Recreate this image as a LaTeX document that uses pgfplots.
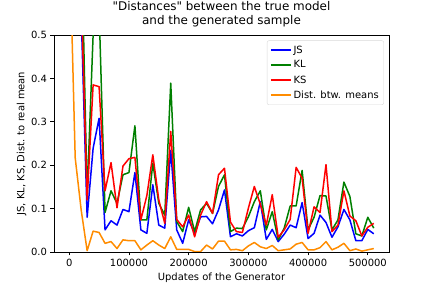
\documentclass[border=0pt]{standalone}
\usepackage{pgfplots}
\pgfplotsset{compat=1.18}
\usepackage{fontspec}
\setmainfont{DejaVu Sans}
\definecolor{mplgreen}{rgb}{0,0.5,0}
\definecolor{mplorange}{rgb}{1,0.55,0}
\begin{document}
\begin{tikzpicture}
\useasboundingbox (0bp,0bp) rectangle (432bp,288bp);
\begin{axis}[
  at={(54bp,36bp)}, anchor=south west,
  scale only axis, width=335bp, height=217bp,
  xmin=-25500, xmax=535500, ymin=0, ymax=0.5,
  axis line style={line width=0.8bp},
  tick align=outside, major tick length=3.5bp,
  every tick/.style={line width=0.8bp, black},
  xtick pos=lower, ytick pos=left,
  xtick={0,100000,200000,300000,400000,500000},
  ytick={0,0.1,0.2,0.3,0.4,0.5},
  scaled x ticks=false, scaled y ticks=false,
  xticklabel style={/pgf/number format/.cd, fixed, 1000 sep={}, assume math mode=true},
  yticklabel style={/pgf/number format/.cd, fixed, fixed zerofill, precision=1, assume math mode=true},
  tick label style={font=\fontsize{10}{12}\selectfont},
  label style={font=\fontsize{10}{12}\selectfont},
  xlabel={Updates of the Generator},
  ylabel={JS, KL, KS, Dist. to real mean},
  xlabel style={yshift=0bp},
  ylabel style={yshift=-2bp},
  title style={font=\fontsize{12}{14}\selectfont, align=center, yshift=-1.5bp},
  title={\textquotedbl Distances\textquotedbl{} between the true model\\and the generated sample},
  legend cell align=left,
  legend style={at={(0.985,0.975)}, anchor=north east, draw=black!15, rounded corners=2bp,
    font=\fontsize{10}{12}\selectfont, row sep=2.2bp, inner xsep=3bp, inner ysep=3bp},
  legend image code/.code={\draw[mark repeat=2,mark phase=2,#1] plot coordinates {(0bp,0bp) (10bp,0bp) (20bp,0bp)};},
  every axis plot/.append style={line width=1.5bp, line join=round},
]
\addplot[blue] coordinates {
(0,0.69) (10000,0.68) (20000,0.55) (30000,0.080) (40000,0.239) (50000,0.308) (60000,0.051) (70000,0.072) (80000,0.062) (90000,0.098)
(100000,0.093) (110000,0.183) (120000,0.051) (130000,0.043) (140000,0.155) (150000,0.062) (160000,0.055) (170000,0.234) (180000,0.051) (190000,0.020)
(200000,0.074) (210000,0.043) (220000,0.081) (230000,0.082) (240000,0.065) (250000,0.097) (260000,0.143) (270000,0.035) (280000,0.042) (290000,0.037)
(300000,0.049) (310000,0.056) (320000,0.116) (330000,0.029) (340000,0.052) (350000,0.024) (360000,0.041) (370000,0.062) (380000,0.056) (390000,0.114)
(400000,0.031) (410000,0.043) (420000,0.085) (430000,0.068) (440000,0.034) (450000,0.058) (460000,0.098) (470000,0.074) (480000,0.026) (490000,0.026)
(500000,0.052) (510000,0.042)};
\addlegendentry{JS}
\addplot[mplgreen] coordinates {
(0,5.0) (10000,3.0) (20000,0.75) (30000,0.13) (40000,0.50) (50000,0.56) (60000,0.091) (70000,0.141) (80000,0.112) (90000,0.178)
(100000,0.183) (110000,0.291) (120000,0.074) (130000,0.074) (140000,0.205) (150000,0.112) (160000,0.085) (170000,0.389) (180000,0.070) (190000,0.047)
(200000,0.103) (210000,0.047) (220000,0.097) (230000,0.112) (240000,0.089) (250000,0.151) (260000,0.178) (270000,0.047) (280000,0.055) (290000,0.054)
(300000,0.081) (310000,0.116) (320000,0.141) (330000,0.051) (340000,0.093) (350000,0.028) (360000,0.055) (370000,0.106) (380000,0.106) (390000,0.188)
(400000,0.051) (410000,0.080) (420000,0.130) (430000,0.129) (440000,0.051) (450000,0.074) (460000,0.161) (470000,0.128) (480000,0.042) (490000,0.037)
(500000,0.080) (510000,0.055)};
\addlegendentry{KL}
\addplot[red] coordinates {
(0,1.0) (10000,0.9) (20000,0.60) (30000,0.12) (40000,0.385) (50000,0.381) (60000,0.141) (70000,0.206) (80000,0.102) (90000,0.198)
(100000,0.215) (110000,0.218) (120000,0.074) (130000,0.13) (140000,0.224) (150000,0.120) (160000,0.066) (170000,0.278) (180000,0.075) (190000,0.058)
(200000,0.085) (210000,0.035) (220000,0.085) (230000,0.116) (240000,0.089) (250000,0.178) (260000,0.193) (270000,0.069) (280000,0.047) (290000,0.045)
(300000,0.101) (310000,0.151) (320000,0.110) (330000,0.062) (340000,0.132) (350000,0.034) (360000,0.051) (370000,0.075) (380000,0.195) (390000,0.170)
(400000,0.043) (410000,0.104) (420000,0.091) (430000,0.201) (440000,0.047) (450000,0.062) (460000,0.141) (470000,0.083) (480000,0.072) (490000,0.037)
(500000,0.057) (510000,0.066)};
\addlegendentry{KS}
\addplot[mplorange] coordinates {
(0,0.75) (10000,0.217) (20000,0.097) (30000,0.003) (40000,0.048) (50000,0.045) (60000,0.020) (70000,0.024) (80000,0.008) (90000,0.028)
(100000,0.026) (110000,0.026) (120000,0.005) (130000,0.016) (140000,0.026) (150000,0.016) (160000,0.008) (170000,0.035) (180000,0.006) (190000,0.006)
(200000,0.006) (210000,0.001) (220000,0.001) (230000,0.016) (240000,0.007) (250000,0.025) (260000,0.025) (270000,0.005) (280000,0.006) (290000,0.003)
(300000,0.014) (310000,0.022) (320000,0.012) (330000,0.008) (340000,0.015) (350000,0.003) (360000,0.005) (370000,0.007) (380000,0.018) (390000,0.022)
(400000,0.005) (410000,0.005) (420000,0.010) (430000,0.024) (440000,0.005) (450000,0.011) (460000,0.020) (470000,0.003) (480000,0.007) (490000,0.002)
(500000,0.005) (510000,0.008)};
\addlegendentry{Dist. btw. means}
\end{axis}
\end{tikzpicture}
\end{document}
